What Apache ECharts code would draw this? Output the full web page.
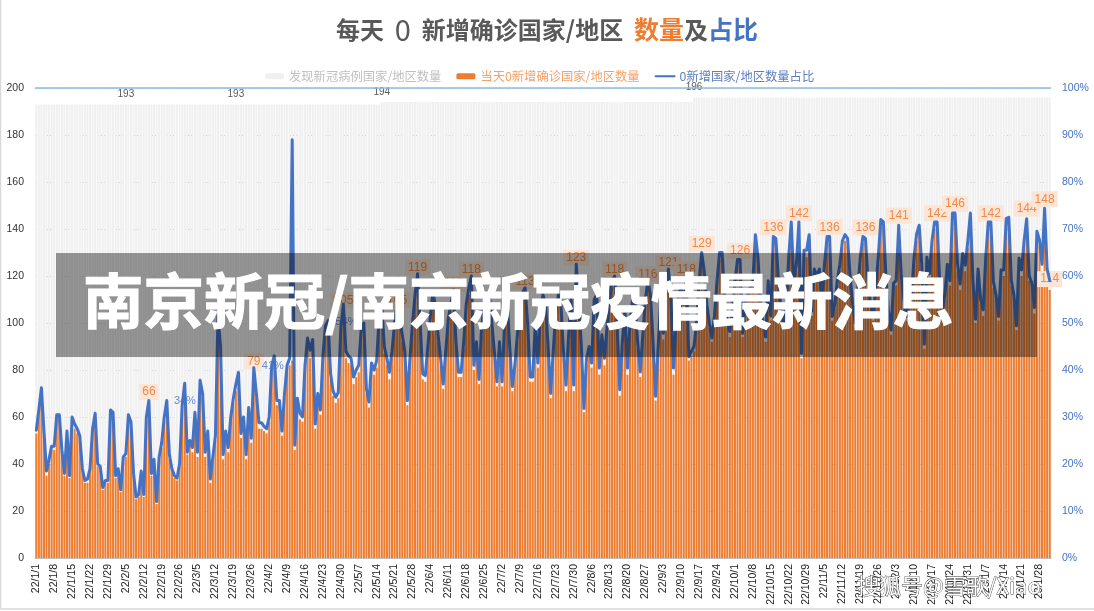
<!DOCTYPE html>
<html><head><meta charset="utf-8">
<style>html,body{margin:0;padding:0;background:#fff}#c{width:1094px;height:611px}</style>
<script src="https://cdn.jsdelivr.net/npm/echarts@6/dist/echarts.min.js"></script>
</head><body><div id="c"></div>
<script>
const titleParts = ["每天  ", "0", "  新增确诊国家/地区  ", "数量", "及", "占比"];
const seriesNames = ["发现新冠病例国家/地区数量", "当天0新增确诊国家/地区数量", "0新增国家/地区数量占比"];
const bannerText = "南京新冠/南京新冠疫情最新消息";
const watermarkText = "搜狐号@雪歌/Xiao";
const dayCount = 397;
const categories = [];
for (let k = 0; k < dayCount; k++) {
  const d = new Date(Date.UTC(2022, 0, 1 + k));
  categories.push((d.getUTCFullYear() % 100) + "/" + (d.getUTCMonth() + 1) + "/" + d.getUTCDate());
}
const reported = [
193,193,193,193,193,193,193,193,193,193,193,193,193,193,193,193,193,193,193,193,
193,193,193,193,193,193,193,193,193,193,193,193,193,193,193,193,193,193,193,193,
193,193,193,193,193,193,193,193,193,193,193,193,193,193,193,193,193,193,193,193,
193,193,193,193,193,193,193,193,193,193,193,193,193,193,193,193,193,193,193,193,
193,193,193,193,193,193,193,193,193,193,193,193,193,193,193,193,193,193,193,193,
193,193,193,193,193,193,193,193,193,193,193,193,193,193,193,193,193,193,193,193,
193,193,193,193,193,193,193,193,193,193,193,193,193,193,193,194,194,194,194,194,
194,194,194,194,194,194,194,194,194,194,194,194,194,194,194,194,194,194,194,194,
194,194,194,194,194,194,194,194,194,194,194,194,194,194,194,194,194,194,194,194,
194,194,194,194,194,194,194,194,194,194,194,194,194,194,194,194,194,194,194,194,
194,194,194,194,194,194,194,194,194,194,194,194,194,194,194,194,194,194,194,194,
194,194,194,194,194,194,194,194,194,194,194,194,194,194,194,194,194,194,194,194,
194,194,194,194,194,194,194,194,194,194,194,194,194,194,194,194,194,196,196,196,
196,196,196,196,196,196,196,196,196,196,196,196,196,196,196,196,196,196,196,196,
196,196,196,196,196,196,196,196,196,196,196,196,196,196,196,196,196,196,196,196,
196,196,196,196,196,196,196,196,196,196,196,196,196,196,196,196,196,196,196,196,
196,196,196,196,196,196,196,196,196,196,196,196,196,196,196,196,196,196,196,196,
196,196,196,196,196,196,196,196,196,196,196,196,196,196,196,196,196,196,196,196,
196,196,196,196,196,196,196,196,196,196,196,196,196,196,196,196,196,196,196,196,
196,196,196,196,196,196,196,196,196,196,196,196,196,196,196,196,196];
const zeroNew = [
53,61,70,52,35,40,46,46,59,59,
44,35,52,34,58,55,53,50,37,32,
32,37,53,59,39,38,29,32,32,61,
60,34,37,28,41,43,59,56,35,25,
26,36,26,58,66,35,40,23,41,47,
58,65,42,37,34,33,39,63,72,44,
48,45,60,43,73,68,43,52,32,41,
50,99,87,42,52,45,58,66,71,76,
51,58,42,62,49,79,68,55,55,54,
53,58,79,83,65,65,52,68,79,82,
84,46,66,59,58,79,90,85,90,55,
68,61,83,96,97,76,69,66,68,95,
105,85,83,82,74,77,79,95,97,70,
64,80,78,81,100,105,87,82,76,85,
97,105,99,92,85,65,82,97,109,119,
97,76,75,87,100,110,104,92,82,72,
85,99,105,112,89,77,77,89,105,112,
118,80,89,74,95,105,109,110,97,85,
73,89,73,97,107,87,71,80,92,105,
110,113,97,75,75,97,81,102,109,105,
87,68,85,102,109,105,85,71,92,107,
71,123,107,87,62,82,87,81,107,109,
78,92,82,95,107,115,118,95,69,89,
102,78,97,107,105,89,77,92,107,116,
109,89,67,87,107,93,109,121,107,78,
97,109,112,105,118,84,86,88,98,116,
129,120,106,98,92,101,116,127,127,108,
98,94,103,116,124,126,94,108,110,113,
116,135,125,106,98,92,116,101,136,133,
116,103,98,103,125,140,116,122,142,85,
128,128,135,103,120,118,120,106,122,134,
136,101,106,116,122,132,135,133,118,106,
98,113,125,134,136,116,106,101,113,125,
141,140,118,103,95,115,116,141,118,108,
101,106,110,125,135,139,122,89,125,119,
132,140,142,116,103,110,122,116,144,146,
122,114,127,122,132,144,116,100,120,108,
103,125,140,142,115,110,101,120,120,142,
142,116,110,97,125,120,132,144,118,115,
104,136,133,122,148,121,114];
const sharePct = [
27.2,31.5,36.2,27,18.5,21,23.8,23.8,30.5,30.5,
23,18,27,17.5,30,28.5,27.5,26,19,16.5,
16.8,19,27.5,30.8,20,19.5,15,16.5,16.5,31.5,
31,17.5,19,14.5,21.5,22.2,30.5,29,18,13,
13.5,18.5,13.5,30,33.5,18,21,12,21.5,24.5,
30,33.5,22,19,17.5,17,20,32.5,37.2,22.5,
25,23.5,31,22.5,37.8,35,22.5,27,16.8,21.5,
26,51.5,45,22,27,23.5,30,34,37,39.5,
26.5,30,22,32,25.5,40.5,35,28.8,28.8,28,
27.5,30,41,43,33.5,33.5,27,35,41,42.5,
89,24,34,30.8,30,41,46.8,44.2,46.5,28.5,
35,31.5,43,49.5,50.5,39.2,35.5,34.2,35.2,49,
54,44,43,42.5,38.5,40,41,49,50,36,
33.2,41.5,40,42,51.5,54,45,42.5,39.5,44,
50,54,51,47.5,44,33.5,42.5,50,56,60.5,
50,39.2,38.8,45,51.5,56.5,53.5,47.5,42.5,37,
44,51,54,57,46,39.5,39.5,46,54,57.5,
60,41,46,38,49,54,56,56.5,50,44,
37.5,46,37.5,50,55,45,36.5,41,47.5,54,
56.5,57.5,50,38.5,38.5,50,41.5,52.5,56,54,
45,35,44,52.5,56,54,44,36.8,47.5,55,
36.8,62.5,55,45,31.8,42.5,45,41.5,55,56,
40.4,47.5,42.5,49,55,59,60,49,35.8,46,
52.5,40.4,50,55,54,46,39.6,47.5,55,59,
56,46,34.4,45,55,47.8,56,61.5,55,40.4,
50,56,57.5,54,60,42.8,44,45,50,59,
65,61,54,50,46.8,51.5,59,65,65,55,
50,48.2,52.5,59,63.5,63.5,47.8,55,56,57.5,
59,68.8,64,54,50,47,59,51.5,68.4,68,
59,52.5,50,52.5,64,71.5,59,62.5,71.5,43.5,
65.5,65.5,68.8,52.5,61.5,60,61.5,54,62.5,68.4,
68.4,51.4,54,59,62.5,67.5,68.8,68,60,54,
50,57.5,64,68.4,68,59,54,51.4,57.5,64,
72,71.5,60,52.5,48.5,58.5,59,70.8,60,55,
51.4,54,56,64,69,70.8,62.5,45.5,64,60.5,
67.5,71.5,71.5,59,52.5,56,62.5,59,73.4,73.4,
62.5,58.3,64.8,62.3,67.5,73.4,59,50.8,61.5,55,
52.8,64,71.5,71.5,58.8,56,51.4,61.3,61.3,72.2,
72.5,59,56,49.4,63.8,61.3,67.5,72.2,60,58.5,
53.3,69.5,67.7,62.5,74.4,61.5,59];
const barLabelDays = [44,85,120,141,149,163,170,191,211,226,239,247,254,260,275,288,298,310,324,337,352,359,373,387,394,396];
const reportedLabelDays = [35,78,135,257];
const shareLabelDays = [44,85,120];
const shareLabelTexts = ["34%","41%","54%"];

const FONT = '"Liberation Sans","Noto Sans CJK SC",sans-serif';
const CJK = '"Noto Sans CJK SC","Liberation Sans",sans-serif';
const orange = '#ed7d31', blue = '#4472c4';
const shareLabelOffsets = [[36, 0], [19, -2], [3, 18]];

const reportedData = reported.map((v, i) => reportedLabelDays.includes(i)
  ? {value: v, label: {show: true, position: 'top', distance: 5, color: '#595959', fontSize: 10, fontFamily: FONT, formatter: '{c}'}} : v);
const zeroData = zeroNew.map((v, i) => barLabelDays.includes(i)
  ? {value: v, label: {show: true, position: 'top', distance: 3, color: '#f08a48', fontSize: 12, fontFamily: FONT,
      backgroundColor: '#fbe5d6', padding: [2, 3], formatter: '{c}'}} : v);
const shareLabelData = shareLabelDays.map((day, k) => ({
  value: [day, sharePct[day]],
  label: {show: true, position: 'inside', offset: shareLabelOffsets[k], color: blue, fontSize: 11, fontFamily: FONT,
    formatter: shareLabelTexts[k]}
}));

const chart = echarts.init(document.getElementById('c'), null, {renderer: 'canvas'});
chart.setOption({
  animation: false,
  backgroundColor: '#fff',
  textStyle: {fontFamily: FONT},
  title: {
    text: `{a|${titleParts[0]}}{b|${titleParts[1]}}{a|${titleParts[2]}}{c|${titleParts[3]}}{a|${titleParts[4]}}{d|${titleParts[5]}}`,
    left: 542, top: 10, textAlign: 'center',
    textStyle: {rich: {
      a: {fontFamily: CJK, fontSize: 24, fontWeight: 'bold', color: '#595959'},
      b: {fontFamily: CJK, fontSize: 29, fontWeight: 'normal', color: '#595959'},
      c: {fontFamily: CJK, fontSize: 25, fontWeight: 'bold', color: orange},
      d: {fontFamily: CJK, fontSize: 25, fontWeight: 'bold', color: blue}
    }}
  },
  legend: {
    top: 65, left: 260, itemWidth: 19, itemHeight: 6, itemGap: 15,
    textStyle: {fontFamily: CJK, fontSize: 12.3},
    data: [
      {name: seriesNames[0], textStyle: {color: '#bfbfbf'}},
      {name: seriesNames[1], textStyle: {color: '#f4a06a'}},
      {name: seriesNames[2], textStyle: {color: '#5b7fc0'}}
    ]
  },
  grid: {left: 35, right: 43, top: 88, bottom: 53, containLabel: false},
  xAxis: {
    type: 'category', data: categories, boundaryGap: true,
    axisLine: {lineStyle: {color: '#bfbfbf'}},
    axisTick: {interval: 6, length: 3, lineStyle: {color: '#bfbfbf'}},
    axisLabel: {interval: 6, rotate: 90, fontSize: 10.5, color: '#222', margin: 6, fontFamily: FONT}
  },
  yAxis: [
    {type: 'value', min: 0, max: 200, interval: 20,
      axisLine: {show: false}, axisTick: {show: false},
      axisLabel: {color: '#333', fontSize: 10.5, margin: 11, padding: [2, 0, 0, 0], fontFamily: FONT},
      splitLine: {show: true, lineStyle: {color: '#9dc3e6', type: [1, 2], width: 1}}},
    {type: 'value', min: 0, max: 100, interval: 10, position: 'right',
      axisLine: {show: false}, axisTick: {show: false},
      axisLabel: {color: blue, fontSize: 10.5, margin: 11, padding: [2, 0, 0, 0], formatter: '{value}%', fontFamily: FONT},
      splitLine: {show: false}}
  ],
  series: [
    {name: seriesNames[0], type: 'bar', data: reportedData, barWidth: '80%', barGap: '-100%',
      itemStyle: {color: '#f0f0f0'}, z: 2},
    {name: seriesNames[1], type: 'bar', data: zeroData, barWidth: '80%', barGap: '-100%',
      itemStyle: {color: orange}, z: 3},
    {name: seriesNames[2], type: 'line', yAxisIndex: 1, data: sharePct, showSymbol: false, symbol: 'none',
      lineStyle: {color: blue, width: 3, join: 'round', cap: 'round'}, itemStyle: {color: blue, opacity: 0}, z: 4},
    {name: 'share-labels', type: 'scatter', yAxisIndex: 1, data: shareLabelData, symbolSize: 1,
      itemStyle: {color: 'rgba(0,0,0,0)'}, z: 5}
  ],
  graphic: [
    {type: 'rect', z: 90, silent: true, shape: {x: 35, y: 88, width: 1016, height: 0},
      style: {stroke: '#8fbbdf', lineWidth: 1, fill: null}},
    {type: 'rect', z: 100, silent: true, shape: {x: 56, y: 253, width: 981, height: 104},
      style: {fill: 'rgba(0,0,0,0.4)'}},
    {type: 'text', z: 101, silent: true, x: 83, y: 301,
      style: {text: bannerText, fill: '#fff', stroke: '#fff', lineWidth: 1.2, font: 'bold 60.5px "Noto Sans CJK SC"', textVerticalAlign: 'middle', textAlign: 'left'}},
    {type: 'text', z: 102, silent: true, x: 857, y: 586,
      style: {text: watermarkText, fill: '#fff', stroke: '#333', lineWidth: 0.8, font: '22px "Noto Sans CJK SC"', textVerticalAlign: 'middle', textAlign: 'left'}},
    {type: 'rect', z: 103, silent: true, shape: {x: 0.5, y: -2, width: 1096, height: 611},
      style: {fill: null, stroke: '#d9d9d9', lineWidth: 1.5}}
  ]
});
</script></body></html>
